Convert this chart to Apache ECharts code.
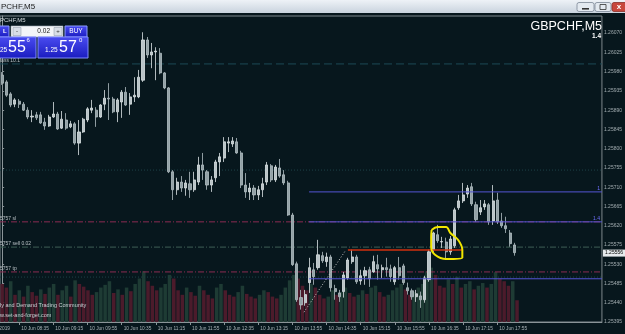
<!DOCTYPE html>
<html><head><meta charset="utf-8">
<script src="https://cdn.jsdelivr.net/npm/echarts@6/dist/echarts.min.js"></script>
<style>html,body{margin:0;padding:0;background:#07171d;overflow:hidden}#c{width:625px;height:334px;}</style>
</head><body><div id="c"></div>
<script>
// ---- data (GBPCHF M5, 10 Jun 2019, 08:15 .. 18:15) ----
const openP = [1.25972,1.25956,1.25928,1.25904,1.25911,1.25904,1.25890,1.25874,1.25879,1.25879,
1.25862,1.25853,1.25874,1.25881,1.25848,1.25867,1.25851,1.25858,1.25813,1.25839,
1.25867,1.25890,1.25890,1.25874,1.25904,1.25918,1.25916,1.25886,1.25909,1.25932,
1.25904,1.25921,1.25921,1.25960,1.26054,1.26019,1.26026,1.26023,1.25977,1.25942,
1.25746,1.25704,1.25722,1.25708,1.25718,1.25704,1.25722,1.25762,1.25746,1.25715,
1.25732,1.25769,1.25778,1.25813,1.25811,1.25816,1.25790,1.25715,1.25699,1.25708,
1.25692,1.25704,1.25722,1.25760,1.25727,1.25755,1.25739,1.25720,1.25645,1.25531,
1.25452,1.25440,1.25487,1.25517,1.25522,1.25550,1.25536,1.25547,1.25473,1.25463,
1.25466,1.25498,1.25536,1.25547,1.25491,1.25503,1.25517,1.25512,1.25529,1.25517,
1.25522,1.25519,1.25489,1.25522,1.25526,1.25475,1.25468,1.25454,1.25456,1.25447,
1.25494,1.25564,1.25599,1.25582,1.25582,1.25559,1.25573,1.25662,1.25678,1.25694,
1.25711,1.25669,1.25652,1.25664,1.25669,1.25631,1.25680,1.25631,1.25620,1.25603,
1.25575];
const closeP = [1.25953,1.25925,1.25902,1.25914,1.25904,1.25890,1.25874,1.25876,1.25872,1.25860,
1.25853,1.25874,1.25881,1.25846,1.25869,1.25848,1.25858,1.25813,1.25839,1.25869,
1.25893,1.25895,1.25874,1.25902,1.25918,1.25916,1.25886,1.25914,1.25932,1.25902,
1.25921,1.25925,1.25967,1.26054,1.26019,1.26026,1.26028,1.25977,1.25942,1.25746,
1.25704,1.25722,1.25708,1.25720,1.25704,1.25727,1.25762,1.25750,1.25715,1.25727,
1.25769,1.25781,1.25816,1.25816,1.25818,1.25790,1.25715,1.25699,1.25708,1.25692,
1.25704,1.25718,1.25762,1.25727,1.25757,1.25736,1.25720,1.25645,1.25529,1.25447,
1.25435,1.25459,1.25522,1.25501,1.25552,1.25538,1.25547,1.25475,1.25466,1.25454,
1.25505,1.25540,1.25547,1.25489,1.25503,1.25515,1.25496,1.25536,1.25519,1.25522,
1.25517,1.25501,1.25522,1.25503,1.25487,1.25468,1.25454,1.25461,1.25447,1.25498,
1.25559,1.25603,1.25585,1.25583,1.25559,1.25589,1.25657,1.25678,1.25692,1.25708,
1.25671,1.25634,1.25662,1.25671,1.25629,1.25678,1.25629,1.25620,1.25613,1.25578,
1.25557];
const lowP = [1.25949,1.25921,1.25897,1.25897,1.25895,1.25888,1.25869,1.25862,1.25867,1.25858,
1.25844,1.25851,1.25872,1.25844,1.25846,1.25844,1.25848,1.25809,1.25785,1.25837,
1.25862,1.25883,1.25851,1.25872,1.25890,1.25867,1.25883,1.25862,1.25872,1.25900,
1.25879,1.25909,1.25918,1.25956,1.26012,1.25988,1.25960,1.25974,1.25939,1.25743,
1.25680,1.25692,1.25699,1.25690,1.25685,1.25699,1.25715,1.25727,1.25704,1.25699,
1.25722,1.25736,1.25769,1.25792,1.25804,1.25788,1.25708,1.25685,1.25680,1.25680,
1.25680,1.25687,1.25715,1.25722,1.25722,1.25732,1.25715,1.25643,1.25526,1.25442,
1.25424,1.25433,1.25463,1.25482,1.25517,1.25533,1.25524,1.25466,1.25447,1.25442,
1.25452,1.25494,1.25531,1.25484,1.25482,1.25482,1.25477,1.25510,1.25494,1.25498,
1.25501,1.25489,1.25482,1.25494,1.25482,1.25459,1.25447,1.25442,1.25428,1.25440,
1.25489,1.25559,1.25580,1.25568,1.25540,1.25552,1.25568,1.25657,1.25673,1.25685,
1.25666,1.25629,1.25645,1.25657,1.25622,1.25622,1.25624,1.25615,1.25603,1.25571,
1.25550];
const highP = [1.25979,1.25960,1.25932,1.25918,1.25916,1.25909,1.25897,1.25890,1.25886,1.25886,
1.25872,1.25879,1.25909,1.25886,1.25888,1.25883,1.25865,1.25862,1.25867,1.25872,
1.25897,1.25914,1.25897,1.25904,1.25937,1.25953,1.25921,1.25918,1.25937,1.25944,
1.25930,1.25967,1.25984,1.26072,1.26061,1.26047,1.26037,1.26035,1.25979,1.25944,
1.25750,1.25732,1.25736,1.25727,1.25746,1.25746,1.25781,1.25790,1.25750,1.25736,
1.25774,1.25790,1.25827,1.25827,1.25827,1.25825,1.25795,1.25743,1.25720,1.25715,
1.25713,1.25732,1.25769,1.25764,1.25762,1.25776,1.25750,1.25725,1.25650,1.25536,
1.25470,1.25470,1.25545,1.25533,1.25587,1.25559,1.25557,1.25552,1.25482,1.25470,
1.25512,1.25545,1.25564,1.25552,1.25517,1.25524,1.25524,1.25550,1.25552,1.25529,
1.25545,1.25529,1.25526,1.25547,1.25531,1.25487,1.25473,1.25470,1.25466,1.25503,
1.25564,1.25606,1.25622,1.25594,1.25592,1.25596,1.25662,1.25692,1.25720,1.25715,
1.25720,1.25676,1.25680,1.25680,1.25673,1.25715,1.25697,1.25650,1.25641,1.25610,
1.25580];
const volumes = [420,380,450,300,350,280,400,330,290,360,
310,380,420,300,350,400,280,460,420,390,
350,300,330,380,410,450,320,360,300,380,
340,420,480,560,450,400,350,380,420,520,
480,350,300,380,330,290,400,350,300,260,
380,420,350,300,280,330,400,310,280,260,
300,350,330,280,260,300,380,460,520,480,
400,350,420,380,300,260,280,350,300,330,
380,320,280,300,350,310,380,400,330,280,
300,350,380,420,360,300,330,380,420,560,
600,520,400,380,470,420,500,380,420,450,
360,400,430,380,420,550,480,450,400,450,
240];
const yTicks = [1.25395,1.25440,1.25485,1.25530,1.25575,1.25620,1.25665,1.25710,1.25755,1.25800,1.25845,1.25890,1.25935,1.25980,1.26025,1.26070];
const startMinute = 8*60+15, stepMinutes = 5, slotCount = 141;
const categories = [];
for (let k = 0; k < slotCount; k++) {
  const m = startMinute + k*stepMinutes;
  categories.push(String(Math.floor(m/60)).padStart(2,'0') + ':' + String(m%60).padStart(2,'0'));
}
// levels / drawings (prices)
const dashedLevel = 1.25998;
const dottedLevels = [1.25750, 1.25500];
const orderLevels = [1.25629, 1.25570, 1.25512];
const orderTexts = ['5757 sl', '5757 sell 0.02', '5757 tp'];
const orderColors = ['#8c2c52', '#3e5f56', '#8c2c52'];
const bidPrice = 1.25556;
const blueLevels = [1.25699, 1.25629, 1.25496];
const blueStart = 71.9;
const orangeLine = [[81, 1.25563], [107.7, 1.25563]];
const tradeLine = [[70.7, 1.25418], [80.5, 1.25563]];
const loopX = [100.6, 102, 104, 105, 106.8, 107.8, 107.8, 104, 101.4, 100.5, 100.5, 100.6];
const loopY = [1.25610, 1.25617, 1.25617, 1.25603, 1.25587, 1.25563, 1.25545, 1.25542, 1.25552, 1.25570, 1.25594, 1.25610];

const FF = '"Liberation Sans", Arial, sans-serif';
const X0 = -0.5, X1 = slotCount - 0.5;
const chart = echarts.init(document.getElementById('c'), null, {renderer: 'canvas'});
const labelIdx = (i) => i >= 4 && i <= openP.length - 1 && (i - 4) % 8 === 0;
const candleData = openP.map((o, i) => [o, closeP[i], lowP[i], highP[i]]);
const blueGrad = new echarts.graphic.LinearGradient(0,0,0,1,[{offset:0,color:'#4a4cf0'},{offset:1,color:'#1a1cc0'}]);
const dashDot = [6,2,1,2];
const hline = (p, from, style, z, extra) => Object.assign({
  type: 'line', xAxisIndex: 1, yAxisIndex: 0, data: [[from, p], [X1, p]], showSymbol: false, silent: true, z: z || 4,
  lineStyle: style, animation: false
}, extra || {});

const series = [
  {
    type: 'bar', xAxisIndex: 2, yAxisIndex: 1, data: volumes, barCategoryGap: '18%', silent: true, z: 1,
    itemStyle: { color: (p) => (p.dataIndex > 0 && volumes[p.dataIndex] > volumes[p.dataIndex-1]) ? '#1e3b34' : '#4b1b2b' }
  },
  hline(dashedLevel, X0, { color: '#1c4a56', type: [8,4], width: 1 }),
  hline(dottedLevels[0], X0, { color: '#1d4048', type: [1,2], width: 1 }),
  hline(dottedLevels[1], X0, { color: '#1d4048', type: [1,2], width: 1 }),
  ...orderLevels.map((p, k) => hline(p, X0, { color: orderColors[k], type: dashDot, width: 1 })),
  {
    type: 'candlestick', xAxisIndex: 0, yAxisIndex: 0, data: candleData, barWidth: 2.6, z: 5,
    itemStyle: { color: '#b9c4c8', color0: '#93a1a6', borderColor: '#dce3e5', borderColor0: '#b3bfc3', borderWidth: 0.8 }
  },
  ...blueLevels.map((p) => hline(p, blueStart, { color: '#5454d4', width: 1 }, 6)),
  hline(bidPrice, X0, { width: 0, opacity: 0 }, 8, {
    endLabel: { show: true, formatter: bidPrice.toFixed(5), backgroundColor: '#e6eaec', color: '#000', fontSize: 5, fontFamily: FF, padding: [1,2], distance: 1 }
  }),
  { type: 'line', xAxisIndex: 1, yAxisIndex: 0, data: orangeLine, showSymbol: false, silent: true, z: 6, lineStyle: { color: '#d2300e', width: 1.5 } },
  { type: 'line', xAxisIndex: 1, yAxisIndex: 0, data: tradeLine, showSymbol: false, silent: true, z: 6, lineStyle: { color: '#c8c8c8', width: 1, type: [1,2] } },
  { type: 'line', xAxisIndex: 1, yAxisIndex: 0, data: loopX.map((x, i) => [x, loopY[i]]), smooth: 0.4, showSymbol: false, silent: true, z: 7, lineStyle: { color: '#f2e600', width: 2 } }
];

const T = (text, x, y, font, fill, align, va) => ({ type: 'text', x, y, z: 100, silent: true,
  style: { text, font, fill, align: align || 'left', verticalAlign: va || 'middle' } });
const graphic = [
  { type: 'rect', z: 99, shape: { x: 0, y: 0, width: 625, height: 13 }, style: { fill: new echarts.graphic.LinearGradient(0,0,0,1,[{offset:0,color:'#eef2f7'},{offset:1,color:'#c9d3de'}]) } },
  T('PCHF,M5', 1, 6.5, '8px ' + FF, '#1c1c1c'),
  { type: 'rect', z: 100, shape: { x: 577, y: 2.5, width: 17, height: 9, r: 2 }, style: { fill: '#e3e9f0', stroke: '#7b8796', lineWidth: 0.8 } },
  { type: 'rect', z: 101, shape: { x: 582, y: 8, width: 7, height: 1.6 }, style: { fill: '#333' } },
  { type: 'rect', z: 100, shape: { x: 595, y: 2.5, width: 16, height: 9, r: 2 }, style: { fill: '#e3e9f0', stroke: '#7b8796', lineWidth: 0.8 } },
  { type: 'rect', z: 101, shape: { x: 600, y: 4.5, width: 6, height: 5 }, style: { fill: 'none', stroke: '#333', lineWidth: 0.8 } },
  { type: 'rect', z: 100, shape: { x: 612, y: 2.5, width: 15, height: 9, r: 2 }, style: { fill: '#c8473c', stroke: '#8a2f28', lineWidth: 0.8 } },
  T('x', 619, 6.5, 'bold 8px ' + FF, '#ffffff', 'center'),
  T('PCHF,M5', 0, 20.5, '6px ' + FF, '#d5dde0'),
  // trade panel
  { type: 'rect', z: 99, shape: { x: -2, y: 26, width: 11, height: 11 }, style: { fill: blueGrad, stroke: '#8fa0ff', lineWidth: 0.6 } },
  T('L', 3, 31.5, 'bold 6px ' + FF, '#ffffff'),
  { type: 'rect', z: 99, shape: { x: 11, y: 26, width: 52, height: 11 }, style: { fill: '#f3f5f8', stroke: '#9aa6b4', lineWidth: 0.6 } },
  { type: 'rect', z: 100, shape: { x: 13, y: 27.5, width: 8, height: 8 }, style: { fill: '#d8dee6', stroke: '#8894a4', lineWidth: 0.5 } },
  T('-', 17, 31.5, '6px ' + FF, '#333', 'center'),
  { type: 'rect', z: 100, shape: { x: 54, y: 27.5, width: 8, height: 8 }, style: { fill: '#d8dee6', stroke: '#8894a4', lineWidth: 0.5 } },
  T('+', 58, 31.5, '6px ' + FF, '#333', 'center'),
  T('0.02', 50, 31.5, '6.5px ' + FF, '#202020', 'right'),
  { type: 'rect', z: 99, shape: { x: 65, y: 26, width: 22, height: 11 }, style: { fill: blueGrad, stroke: '#8fa0ff', lineWidth: 0.6 } },
  T('BUY', 76, 31.5, '6.5px ' + FF, '#ffffff', 'center'),
  { type: 'rect', z: 99, shape: { x: -2, y: 37, width: 38, height: 21 }, style: { fill: blueGrad, stroke: '#7f8cff', lineWidth: 0.6 } },
  { type: 'rect', z: 99, shape: { x: 38, y: 37, width: 50, height: 21 }, style: { fill: blueGrad, stroke: '#7f8cff', lineWidth: 0.6 } },
  T('25', 0, 50, '6.5px ' + FF, '#ffffff'),
  T('55', 8, 47.5, '16px ' + FF, '#ffffff'),
  T('6', 26.5, 40.5, '6px ' + FF, '#ffffff'),
  T('1.25', 45, 50, '6.5px ' + FF, '#ffffff'),
  T('57', 59, 47.5, '16px ' + FF, '#ffffff'),
  T('0', 79, 40.5, '6px ' + FF, '#ffffff'),
  T('lass 10.1', 0, 60.5, '5px ' + FF, '#b8c0c4'),
  // top-right symbol
  T('GBPCHF,M5', 602, 27, '12.5px ' + FF, '#ffffff', 'right'),
  T('1.4', 601, 36, 'bold 6.5px ' + FF, '#ffffff', 'right'),
  // bottom-left
  T('ly and Demand Trading Community', 0, 305, '5.5px ' + FF, '#c8d0d4'),
  T('w.set-and-forget.com', 0, 315, '5.5px ' + FF, '#c8d0d4'),
  T('10 Jun 2019', 10, 329, '4.8px ' + FF, '#aab4b8', 'right')
];

chart.setOption({
  backgroundColor: '#07171d',
  animation: false,
  graphic,
  grid: [
    { left: -1.3, right: 20, top: 16, bottom: 12, show: true, borderColor: '#7d878c', borderWidth: 1, backgroundColor: 'transparent' },
    { left: -1.3, right: 20, top: 264, bottom: 12 }
  ],
  xAxis: [
    { type: 'category', gridIndex: 0, data: categories, boundaryGap: true,
      axisLine: { show: true, lineStyle: { color: '#8a9498', width: 1 } },
      axisTick: { show: true, alignWithLabel: true, length: 3, interval: labelIdx, lineStyle: { color: '#8a9498' } },
      axisLabel: { interval: labelIdx, formatter: (v) => '10 Jun ' + v, align: 'left', color: '#aab4b8', fontSize: 4.8, fontFamily: FF, margin: 4, padding: [0,0,0,2] },
      splitLine: { show: false } },
    { type: 'value', gridIndex: 0, min: X0, max: X1, show: false },
    { type: 'category', gridIndex: 1, data: categories, show: false }
  ],
  yAxis: [
    { type: 'value', gridIndex: 0, position: 'right', min: 1.25395, max: 1.26110,
      axisLine: { show: true, lineStyle: { color: '#8a9498' } },
      axisTick: { show: true, length: 2, customValues: yTicks, lineStyle: { color: '#8a9498' } },
      axisLabel: { customValues: yTicks, formatter: (v) => v.toFixed(5), color: '#a3adb1', fontSize: 5, fontFamily: FF, margin: 2 },
      splitLine: { show: false } },
    { type: 'value', gridIndex: 1, min: 0, max: 640, show: false }
  ],
  series
});

// labels attached to the order lines, placed through the price scale
const extra = [];
orderLevels.forEach((p, k) => {
  const y = chart.convertToPixel({ yAxisIndex: 0 }, p);
  extra.push(T(orderTexts[k], 0, y - 1, '5px ' + FF, '#b8c0c4', 'left', 'bottom'));
});
const x605 = chart.convertToPixel({ xAxisIndex: 1 }, X1);
[['1', blueLevels[0]], ['1.4', blueLevels[1]]].forEach(([t, p]) => {
  const y = chart.convertToPixel({ yAxisIndex: 0 }, p);
  extra.push(T(t, x605 - 2, y - 1, '5px ' + FF, '#7070ff', 'right', 'bottom'));
});
chart.setOption({ graphic: graphic.concat(extra) });
</script></body></html>
